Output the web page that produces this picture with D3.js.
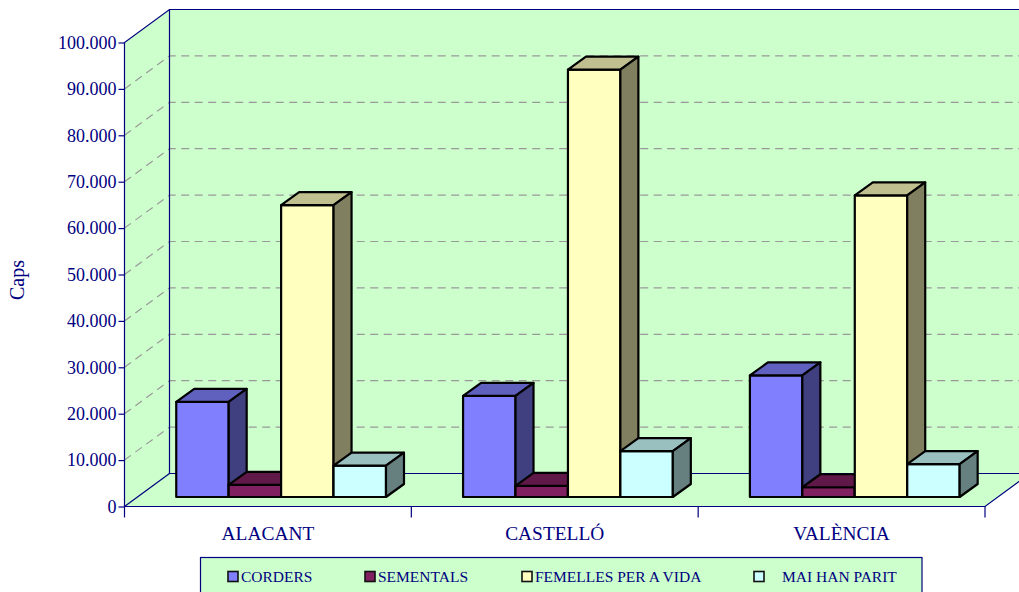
<!DOCTYPE html>
<html><head><meta charset="utf-8">
<script src="https://cdnjs.cloudflare.com/ajax/libs/d3/7.8.5/d3.min.js"></script>
<style>html,body{margin:0;padding:0;background:#fff;overflow:hidden}svg{display:block}text{font-family:"Liberation Serif",serif;fill:#000080}</style>
</head><body><svg id="c" width="1019" height="592"></svg>
<script>
const categories = ["ALACANT","CASTELLÓ","VALÈNCIA"];
const seriesNames = ["CORDERS","SEMENTALS","FEMELLES PER A VIDA","MAI HAN PARIT"];
const corders = [20500,21800,26200];
const sementals = [2600,2400,2100];
const femelles = [62900,92100,65000];
const maiHanParit = [6750,9900,7100];
const seriesValues = [corders,sementals,femelles,maiHanParit];
const yTicks = [0,10000,20000,30000,40000,50000,60000,70000,80000,90000,100000];
const tickLabels = ["0","10.000","20.000","30.000","40.000","50.000","60.000","70.000","80.000","90.000","100.000"];
const frontColors = ["#8080FF","#802060","#FFFFC0","#CCFFFF"];
const topColors = ["#6060BF","#601848","#BFBF90","#99BFBF"];
const sideColors = ["#404080","#401030","#808060","#668080"];
const legendSwatchX = [228,365,522,754];
const legendTextX = [241,378,535,782];

const svg = d3.select("#c");
const navy = "#000080", wall = "#CCFFCC";
const x0 = 124.5, x1 = 985, y0 = 506.5, yTop = 42.5;
const depthX = 45, depthY = -33;
const barOffX = 13.2, barOffY = -9.5, barDX = 18, barDY = -13;
const y = d3.scaleLinear().domain([0,100000]).range([y0,yTop]);
const xCat = d3.scaleBand().domain(categories).range([x0,x1]);
const xSer = d3.scaleBand().domain(d3.range(4)).range([0,xCat.bandwidth()]).paddingOuter(0.735).paddingInner(0);
const line = d3.line();
const poly = (pts,fill,stroke,w)=>svg.append("path").attr("d",line(pts)+"Z").attr("fill",fill).attr("stroke",stroke||"none").attr("stroke-width",w||0).attr("stroke-linejoin","round");

// walls and floor
poly([[x0,y0],[x0+depthX,y0+depthY],[x0+depthX,yTop+depthY],[x0,yTop]],wall);
poly([[x0+depthX,y0+depthY],[1030,y0+depthY],[1030,yTop+depthY],[x0+depthX,yTop+depthY]],wall);
poly([[x0,y0],[x1,y0],[x1+depthX,y0+depthY],[x0+depthX,y0+depthY]],wall);

// grid
const grid = svg.append("g").attr("fill","none").attr("stroke","#999999").attr("stroke-width",1.2).attr("stroke-dasharray","8,5.5");
yTicks.slice(1,-1).forEach(t=>{
  grid.append("path").attr("d",line([[x0,y(t)],[x0+depthX,y(t)+depthY],[1019,y(t)+depthY]]));
});

// frame lines
const frame = svg.append("g").attr("fill","none").attr("stroke",navy).attr("stroke-width",1.2);
frame.append("path").attr("d",line([[x0,y0],[x0,yTop],[x0+depthX,yTop+depthY],[1019,yTop+depthY]]));
frame.append("path").attr("d",line([[x0+depthX,yTop+depthY],[x0+depthX,y0+depthY],[1019,y0+depthY]]));
frame.append("path").attr("d",line([[x0,y0],[x0+depthX,y0+depthY]]));
frame.append("path").attr("d",line([[x0,y0],[x1,y0],[x1+depthX,y0+depthY]]));

// axes
const yAxis = d3.axisLeft(y).tickValues(yTicks).tickFormat((d,i)=>tickLabels[i]).tickSize(6).tickPadding(2);
const gy = svg.append("g").attr("transform",`translate(${x0},0)`).call(yAxis);
gy.select(".domain").remove();
gy.selectAll("line").attr("stroke",navy).attr("stroke-width",1.2);
gy.selectAll("text").attr("font-size",18).attr("fill",navy).style("font-family",'"Liberation Serif",serif');
const xEdges = d3.range(4).map(i=>x0+i*xCat.bandwidth());
svg.append("g").selectAll("line").data(xEdges).join("line")
  .attr("x1",d=>d).attr("x2",d=>d).attr("y1",y0).attr("y2",y0+11).attr("stroke",navy).attr("stroke-width",1.2);
svg.append("g").selectAll("text").data(categories).join("text")
  .attr("x",d=>xCat(d)+xCat.bandwidth()/2).attr("y",540).attr("text-anchor","middle").attr("font-size",19.4).text(d=>d);
svg.append("text").attr("transform","translate(23.5,280) rotate(-90)").attr("text-anchor","middle").attr("font-size",20).text("Caps");

// bars
categories.forEach((c,ci)=>{
  seriesValues.forEach((vals,si)=>{
    const v = vals[ci];
    const l = xCat(c)+xSer(si)+barOffX, r = l+xSer.bandwidth();
    const b = y(0)+barOffY, t = y(v)+barOffY;
    const g = [frontColors[si],topColors[si],sideColors[si]];
    poly([[l,b],[r,b],[r,t],[l,t]],g[0],"#000",2.2);
    poly([[l,t],[r,t],[r+barDX,t+barDY],[l+barDX,t+barDY]],g[1],"#000",2.2);
    poly([[r,b],[r+barDX,b+barDY],[r+barDX,t+barDY],[r,t]],g[2],"#000",2.2);
  });
});

// legend
svg.append("rect").attr("x",200.5).attr("y",557.5).attr("width",721.5).attr("height",50).attr("fill",wall).attr("stroke",navy).attr("stroke-width",1.2);
seriesNames.forEach((n,i)=>{
  svg.append("rect").attr("x",legendSwatchX[i]).attr("y",571.5).attr("width",10).attr("height",10).attr("fill",frontColors[i]).attr("stroke","#111").attr("stroke-width",1.6);
  svg.append("text").attr("x",legendTextX[i]).attr("y",582).attr("font-size",15.5).text(n);
});
</script></body></html>
